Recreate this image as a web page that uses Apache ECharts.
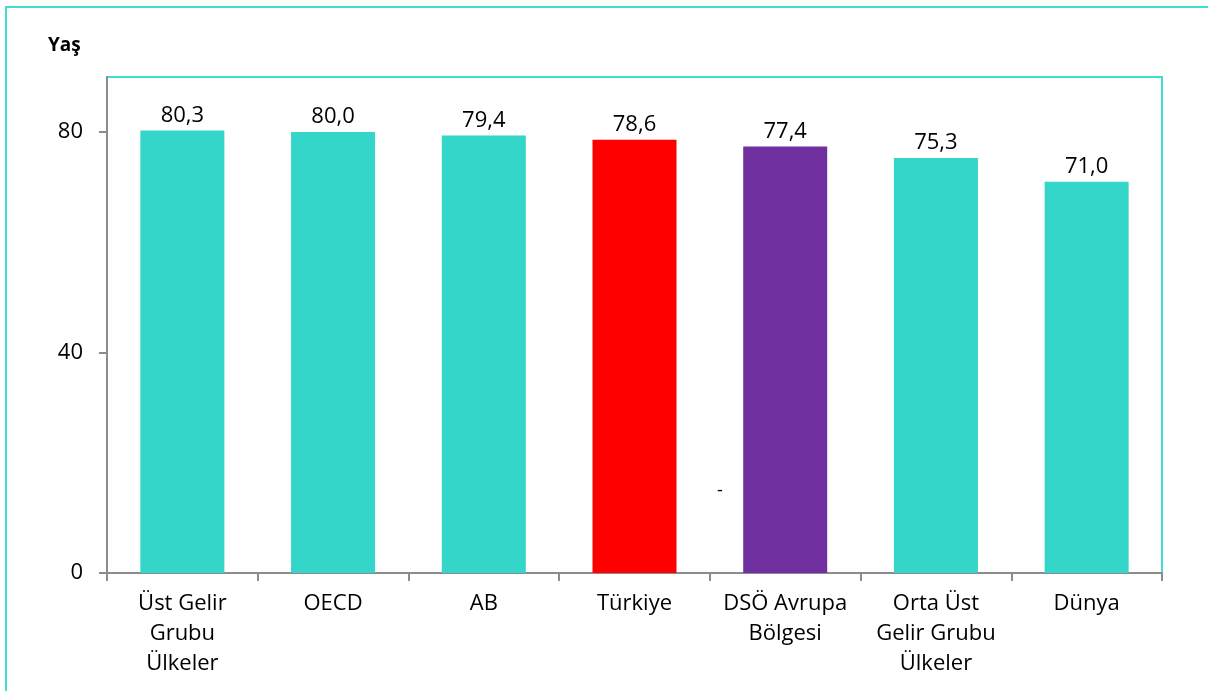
<!DOCTYPE html>
<html>
<head>
<meta charset="utf-8">
<script src="https://cdn.jsdelivr.net/npm/echarts@6/dist/echarts.min.js"></script>
<style>
  html, body { margin: 0; padding: 0; background: #fff; }
  #chart { width: 1208px; height: 691px; }
</style>
</head>
<body>
<div id="chart"></div>
<script>
// kategoriler ve değerler
const categories = ['Üst Gelir\nGrubu\nÜlkeler', 'OECD', 'AB', 'Türkiye', 'DSÖ Avrupa\nBölgesi', 'Orta Üst\nGelir Grubu\nÜlkeler', 'Dünya']
const values = [80.3, 80.0, 79.4, 78.6, 77.4, 75.3, 71.0]
const barColors = ['#33D6C9', '#33D6C9', '#33D6C9', '#FF0000', '#7030A0', '#33D6C9', '#33D6C9']
const yTicks = [0, 40, 80]

const chart = echarts.init(document.getElementById('chart'))
const font = "'Open Sans', 'Noto Sans', sans-serif"

const option = {
  animation: false,
  textStyle: { fontFamily: font },
  graphic: [
    {
      type: 'rect',
      shape: { x: 6, y: 7, width: 1400, height: 900 },
      style: { fill: 'none', stroke: '#40DDD0', lineWidth: 2 },
      silent: true
    },
    {
      type: 'text',
      left: 48,
      top: 36,
      style: { text: 'Yaş', font: 'bold 19px ' + font, fill: '#000' }
    },
    {
      type: 'text',
      left: 717,
      top: 482,
      style: { text: '-', font: '18px ' + font, fill: '#000' }
    }
  ],
  grid: {
    left: 107,
    right: 46,
    top: 77,
    bottom: 118,
    show: true,
    borderColor: '#40DDD0',
    borderWidth: 2
  },
  xAxis: {
    type: 'category',
    data: categories,
    axisLine: { lineStyle: { color: '#8c8c8c', width: 2 } },
    axisTick: { show: true, length: 8, lineStyle: { color: '#8c8c8c', width: 2 } },
    axisLabel: {
      color: '#000',
      fontSize: 22,
      lineHeight: 30,
      margin: 16,
      interval: 0
    }
  },
  yAxis: {
    type: 'value',
    min: 0,
    max: 90,
    interval: 40,
    splitLine: { show: false },
    axisLine: { show: true, lineStyle: { color: '#8c8c8c', width: 2 } },
    axisTick: { show: true, length: 8, customValues: yTicks, lineStyle: { color: '#8c8c8c', width: 2 } },
    axisLabel: { color: '#000', fontSize: 22, margin: 24, customValues: yTicks }
  },
  series: [
    {
      type: 'bar',
      barWidth: 84,
      data: values.map((v, i) => ({ value: v, itemStyle: { color: barColors[i] } })),
      label: {
        show: true,
        position: 'top',
        distance: 4,
        color: '#000',
        fontSize: 22,
        formatter: p => p.value.toFixed(1).replace('.', ',')
      }
    }
  ]
}
chart.setOption(option)
</script>
</body>
</html>
